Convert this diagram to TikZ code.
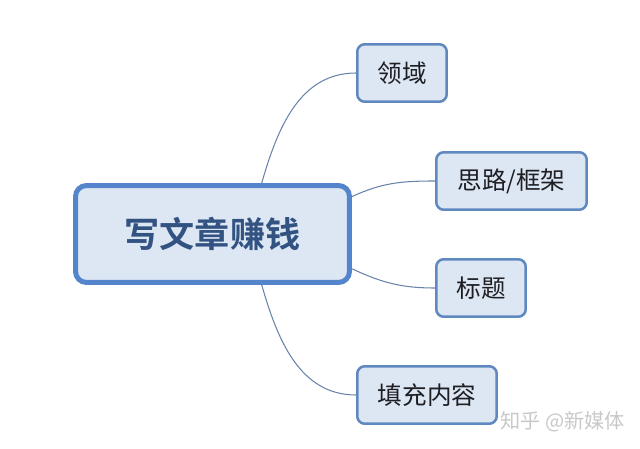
\documentclass[tikz,border=0pt]{standalone}
\usepackage{fontspec}
\newfontfamily\cjk{Noto Sans CJK SC}[BoldFont={Noto Sans CJK SC Bold}]
\usetikzlibrary{
  positioning,
  calc}
\definecolor{boxfill}{RGB}{221,231,243}
\definecolor{mainborder}{RGB}{84,132,203}
\definecolor{topicborder}{RGB}{96,136,192}
\definecolor{maintext}{RGB}{50,82,130}
\definecolor{topictext}{RGB}{30,30,35}
\definecolor{branchcolor}{RGB}{104,132,170}
\definecolor{markcolor}{RGB}{200,200,200}
\tikzset{
  %% maintopic : the central idea
  maintopic/.style={
    rectangle,
    rounded corners=0.22cm,
    draw=mainborder,
    line width=0.1cm,
    fill=boxfill,
    text=maintext,
    minimum width=5.48cm,
    minimum height=1.94cm,
    font=\cjk\bfseries\fontsize{20}{24}\selectfont,
    align=center
  },
  %% subtopic : one branch of the map
  subtopic/.style={
    rectangle,
    rounded corners=0.15cm,
    draw=topicborder,
    line width=0.05cm,
    fill=boxfill,
    text=topictext,
    minimum height=1.15cm,
    font=\cjk\fontsize{14}{17}\selectfont,
    align=center
  },
  %% branch : curve from the centre to a subtopic
  branch/.style={branchcolor, line width=0.6pt}
}

\begin{document}
\begin{tikzpicture}
  [x=0.02cm,
  y=-0.02cm]

  \useasboundingbox (0,0) rectangle (640,449);

  %% Central idea
  \node (main) [maintopic] at (212.5,234) {写文章赚钱};

  %% Subtopics
  \node (domain) [subtopic, minimum width=1.79cm] at (402,73) {领域};
  \node (frame) [subtopic, minimum width=3.01cm] at (511.5,181) {思路/框架};
  \node (title) [subtopic, minimum width=1.79cm] at (481,288) {标题};
  \node (content) [subtopic, minimum width=2.79cm] at (427,395) {填充内容};

  %% Connections
  \draw [branch] (main.46) to[out=74, in=180] (domain.west);
  \draw [branch] (main.15) to[out=25, in=180] (frame.west);
  \draw [branch] (main.-14) to[out=-25, in=180] (title.west);
  \draw [branch] (main.-46) to[out=-74, in=180] (content.west);

  %% Watermark
  \node (mark) [text=markcolor, font=\cjk\fontsize{11.5}{14}\selectfont,
    anchor=east] at (631,422) {知乎 @新媒体};

\end{tikzpicture}
\end{document}
